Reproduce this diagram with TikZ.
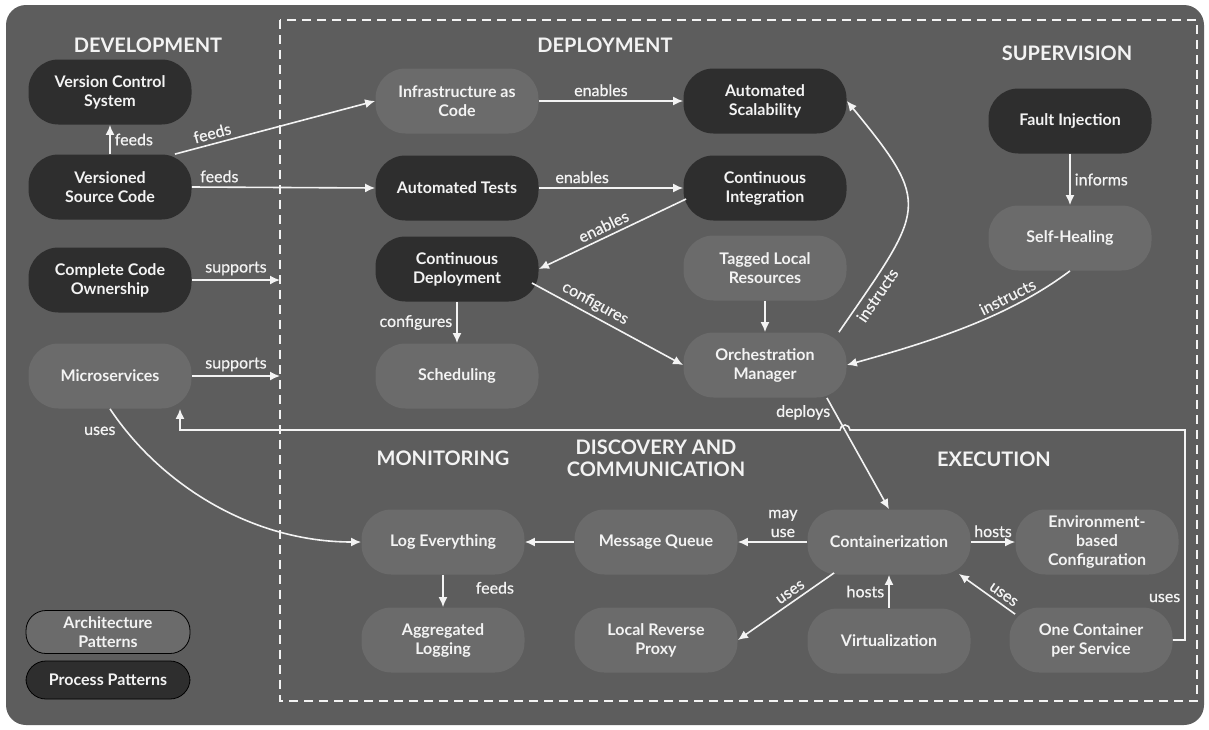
\documentclass[tikz,border=0pt]{standalone}
\usepackage{fontspec}
\setmainfont{Lato}
\newfontfamily\lblfont{Lato}[FakeBold=0.6]
\usetikzlibrary{
  arrows.meta,
  calc
}
\definecolor{backish}{RGB}{93,93,93}
\definecolor{lightish}{RGB}{107,107,107}
\definecolor{darkish}{RGB}{46,46,46}
\definecolor{textish}{RGB}{243,243,243}

\begin{document}
\begin{tikzpicture}[
  x=0.5pt,
  y=-0.5pt,
  arch/.style={
    draw=none,
    fill=lightish,
    rounded corners=15pt,
    minimum width=81.5pt,
    minimum height=32.5pt,
    inner sep=0pt,
    align=center,
    text=textish,
    font=\bfseries\fontsize{8}{9.5}\selectfont
  },
  proc/.style={
    arch,
    fill=darkish
  },
  legend/.style={
    arch,
    draw=black,
    line width=0.4pt,
    rounded corners=10pt,
    minimum width=82pt,
    minimum height=21.5pt
  },
  title/.style={
    align=center,
    text=textish,
    font=\bfseries\fontsize{10}{11}\selectfont
  },
  lbl/.style={
    align=center,
    inner sep=2pt,
    text=textish,
    font=\lblfont\fontsize{8}{9.5}\selectfont
  },
  link/.style={
    ->,
    draw=textish,
    line width=0.8pt
  },
  >={Latex[length=5pt,width=4.5pt]}
]

% Frame
\useasboundingbox (0,0) rectangle (1209,729);
\fill[white] (0,0) rectangle (1209,729);
\fill[backish, rounded corners=10pt] (6,5) rectangle (1204,725);
\draw[textish, line width=1pt, dash pattern=on 4.5pt off 3pt] (280,20) rectangle (1197,701);

% Titles
\node[title] (tDev) at (148,45) {DEVELOPMENT};
\node[title] (tDep) at (605,45) {DEPLOYMENT};
\node[title] (tSup) at (1067,53) {SUPERVISION};
\node[title] (tMon) at (443,458) {MONITORING};
\node[title] (tDis) at (656,458) {DISCOVERY AND\\COMMUNICATION};
\node[title] (tExe) at (994,459) {EXECUTION};

% Development
\node[proc] (vcs) at (110,92) {Version Control\\System};
\node[proc] (vsc) at (110,187) {Versioned\\Source Code};
\node[proc] (cco) at (110,280) {Complete Code\\Ownership};
\node[arch] (micro) at (110,376) {Microservices};
\coordinate (ccoEnd) at (280,280);
\coordinate (microEnd) at (280,376);

% Deployment
\node[arch] (iac) at (457,101) {Infrastructure as\\Code};
\node[proc] (asc) at (765,101) {Automated\\Scalability};
\node[proc] (ats) at (457,188) {Automated Tests};
\node[proc] (ci) at (765,188) {Continuous\\Integration};
\node[proc] (cd) at (457,269) {Continuous\\Deployment};
\node[arch] (sched) at (457,376) {Scheduling};
\node[arch] (tlr) at (765,268) {Tagged Local\\Resources};
\node[arch] (om) at (765,365) {Orchestration\\Manager};

% Supervision
\node[proc] (fi) at (1070,121) {Fault Injection};
\node[arch] (sh) at (1070,238) {Self-Healing};

% Monitoring, discovery, execution
\node[arch] (log) at (443,542) {Log Everything};
\node[arch] (agg) at (443,640) {Aggregated\\Logging};
\node[arch] (mq) at (656,542) {Message Queue};
\node[arch] (lrp) at (656,640) {Local Reverse\\Proxy};
\node[arch] (ctr) at (889,542) {Containerization};
\node[arch] (virt) at (889,641) {Virtualization};
\node[arch] (env) at (1097,542) {Environment-\\based\\Configuration};
\node[arch] (ocs) at (1091,640) {One Container\\per Service};

% Legend
\node[legend, fill=lightish] (lgArch) at (108,632) {Architecture\\Patterns};
\node[legend, fill=darkish, minimum height=19pt] (lgProc) at (108,680) {Process Patterns};

% Arrows development
\draw[link] (vsc) -- node[lbl, right]{feeds} (vcs);
\draw[link] (vsc.north east) ++(-17,0) -- node[lbl, sloped, above, pos=0.2]{feeds} (iac.west);
\draw[link] (vsc.east) -- node[lbl, above, pos=0.15]{feeds} (ats.west);
\draw[link] (cco.east) -- node[lbl, above]{supports} (ccoEnd);
\draw[link] (micro.east) -- node[lbl, above]{supports} (microEnd);
\draw[link] (micro.south) .. controls +(50,75) and +(-110,0) .. node[lbl, left=3pt, pos=0.1]{uses} (log.west);

% Arrows deployment
\draw[link] (iac) -- node[lbl, above, pos=0.43]{enables} (asc);
\draw[link] (ats) -- node[lbl, above, pos=0.3]{enables} (ci);
\draw[link] ($(ci.west)+(3,11)$) -- node[lbl, sloped, above, pos=0.53]{enables} (cd.east);
\draw[link] (cd) -- node[lbl, left]{configures} (sched);
\draw[link] ($(cd.east)+(-7,14)$) -- node[lbl, sloped, above, pos=0.38]{configures} (om.west);
\draw[link] (tlr) -- (om);
\draw[link] (om.north east) ++(-8,0) .. controls +(86,-125) and +(86,105) .. node[lbl, sloped, below, pos=0.13]{instructs} (asc.east);

% Arrows supervision
\draw[link] (fi) -- node[lbl, right]{informs} (sh);
\draw[link] (sh.south) .. controls +(-60,45) and +(90,-25) .. node[lbl, sloped, above, pos=0.3]{instructs} (om.east);

% Arrows execution
\draw[link] (om.south east) ++(-20,0) -- node[lbl, left, pos=0.13]{deploys} (ctr.north);
\draw[link] (ctr) -- node[lbl, above, pos=0.35]{may\\use} (mq);
\draw[link] (ctr) -- node[lbl, above]{hosts} (env);
\draw[link] (mq) -- (log);
\draw[link] (log) -- node[lbl, right=14pt, pos=0.4]{feeds} (agg);
\draw[link] ($(ctr.south west)+(27,-2)$) -- node[lbl, sloped, above, pos=0.4]{uses} (lrp.east);
\draw[link] (virt) -- node[lbl, left]{hosts} (ctr);
\draw[link] ($(ocs.north west)+(6,7)$) -- node[lbl, sloped, above, pos=0.3]{uses} ($(ctr.south east)+(-12,-1)$);
\draw[link] (ocs.east) -- (1185,640) -- node[lbl, left, pos=0.2]{uses} (1185,430) -- (850,430)
  arc[start angle=0, end angle=-180, radius=5] -- (180,430) -- (180,430 |- micro.south);

\end{tikzpicture}
\end{document}
